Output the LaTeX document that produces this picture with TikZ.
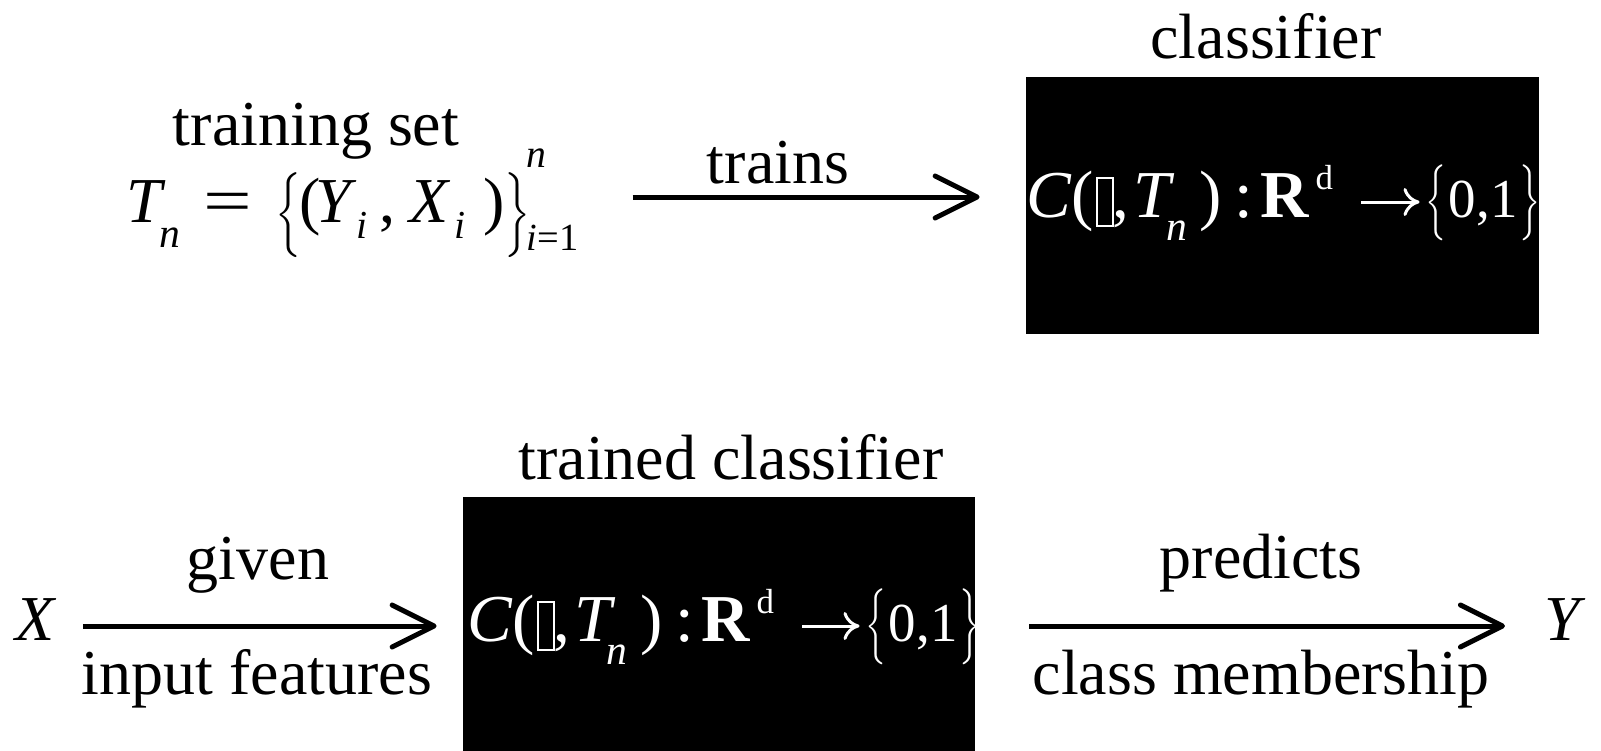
\documentclass[tikz,border=0pt]{standalone}
\usepackage{fix-cm}
\usepackage{fontspec}
\setmainfont{Liberation Serif}
\usepackage{amsmath}
\usepackage{graphicx}
\usetikzlibrary{arrows.meta}

% empty glyph box, as printed in the classifier formula
\newcommand{\tofu}{\raisebox{-4pt}{\setlength{\fboxsep}{0pt}\setlength{\fboxrule}{1pt}\fbox{\rule{0pt}{23pt}\hspace{7pt}}}}
% tall braces of fixed size
\newcommand{\lbr}[2]{\resizebox*{#1}{#2}{$\bigl\{$}}
\newcommand{\rbr}[2]{\resizebox*{#1}{#2}{$\bigr\}$}}
% left side of the classifier: C(., T_n) : R^d
\newcommand{\clsleft}{%
  \textit{C}(\kern1pt\tofu\kern-1pt,\kern2.5pt\textit{T}\kern-4.5pt%
  \raisebox{-11.5pt}{\scalebox{0.62}{\textit{n}}}\kern6.5pt)\kern6pt:\kern4pt%
  \textbf{R}\kern3pt\raisebox{14pt}{\scalebox{0.52}{d}}}
% right side of the classifier: {0,1}
\newcommand{\clsright}{%
  \lbr{10.5pt}{38pt}\kern1pt%
  \scalebox{0.82}{0,1}\kern1pt\rbr{10.5pt}{38pt}}
% training set T_n = {(Y_i, X_i)}_{i=1}^n
\newcommand{\trainform}{%
  \textit{T}\kern-3.3pt\raisebox{-12.5pt}{\scalebox{0.65}{\textit{n}}}\kern12pt%
  \scalebox{1.35}[1]{=}\kern11.5pt\raisebox{-4pt}{\lbr{13pt}{42.5pt}}%
  \kern-1pt(\kern-3pt\textit{Y}\raisebox{-8pt}{\scalebox{0.62}{\textit{i}}}%
  \kern6pt,\kern7pt\textit{X}\kern2pt\raisebox{-8pt}{\scalebox{0.62}{\textit{i}}}%
  \kern9pt)\raisebox{-4pt}{\rbr{13pt}{42.5pt}}\kern-2pt%
  \makebox[0pt][l]{\raisebox{27.5pt}{\scalebox{0.62}{\textit{n}}}}%
  \raisebox{-14pt}{\scalebox{0.6}{\textit{i}=1}}}

\tikzset{
  txt/.style={inner sep=0pt, font=\fontsize{32}{38}\selectfont},
  blackbox/.style={fill=black, draw=none, inner sep=0pt},
  boxform/.style={inner sep=0pt, text=white, font=\fontsize{33.5}{40}\selectfont},
  formula/.style={inner sep=0pt, anchor=base west, font=\fontsize{32}{38}\selectfont},
  flow/.style={line width=2.5pt, -{Straight Barb[length=21pt,width=21pt,round]}},
  maps/.style={white, line width=1.5pt, -{Computer Modern Rightarrow[length=8pt,width=14pt]}}
}

\begin{document}
\begin{tikzpicture}[x=0.5pt,y=-0.5pt]
\useasboundingbox (0,0) rectangle (1601,750);
\coordinate (trainrow) at (0,197);
\coordinate (predrow) at (0,626);

% training stage
\node[txt] (tsetlbl) at (316,131) {training set};
\node[formula] (tn) at (126,222) {\trainform};
\node[blackbox, minimum width=256.5pt, minimum height=128.5pt] (topbox) at (1282.5,205.5) {};
\node[boxform, anchor=base west] (topL) at (1026,217) {\clsleft};
\node[boxform, anchor=base east] (topR) at (1541,217) {\clsright};
\draw[maps] ([xshift=14pt,yshift=7.5pt]topL.base east) -- ([xshift=-3pt,yshift=7.5pt]topR.base west);
\node[txt] (clslbl) at (1266,36) {classifier};
\draw[flow] ([xshift=27pt]tn.east |- trainrow) -- ([xshift=-23pt]topbox.west |- trainrow);
\node[txt] (trains) at (778,163) {trains};

% prediction stage
\node[txt, anchor=base] (xin) at (36,640) {\textit{X}};
\node[blackbox, minimum width=256pt, minimum height=128.5pt] (botbox) at (719,625.5) {};
\node[boxform, anchor=base west] (botL) at (467,641) {\clsleft};
\node[boxform, anchor=base east] (botR) at (981,641) {\clsright};
\draw[maps] ([xshift=14pt,yshift=7.5pt]botL.base east) -- ([xshift=-3pt,yshift=7.5pt]botR.base west);
\node[txt] (trainedlbl) at (731,457) {trained classifier};
\node[txt, anchor=base] (yout) at (1565,640) {\textit{Y}};
\draw[flow] ([xshift=13pt]xin.east |- predrow) -- ([xshift=-13pt]botbox.west |- predrow);
\draw[flow] ([xshift=27pt]botbox.east |- predrow) -- ([xshift=-19.5pt]yout.west |- predrow);
\node[txt] (given) at (258,565) {given};
\node[txt] (inputf) at (257,679) {input features};
\node[txt] (predicts) at (1261,563) {predicts};
\node[txt] (member) at (1261,679) {class membership};
\end{tikzpicture}
\end{document}
